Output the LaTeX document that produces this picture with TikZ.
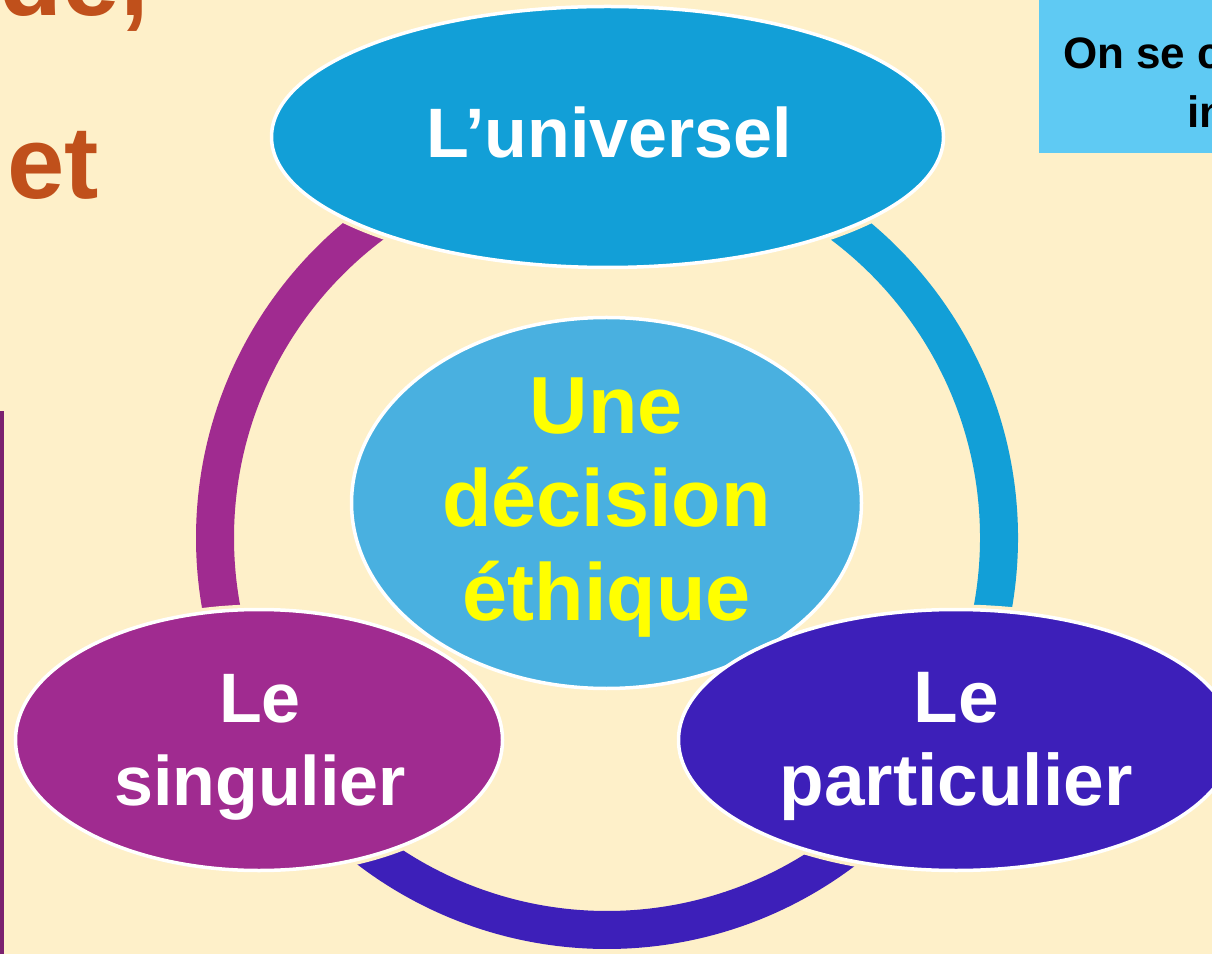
\documentclass[tikz,border=0pt]{standalone}
\usepackage{fontspec}
\setmainfont{Liberation Sans}
\usetikzlibrary{shapes.geometric}
\definecolor{bgc}{HTML}{FEF0C9}
\definecolor{univc}{HTML}{129FD7}
\definecolor{centc}{HTML}{49B0E0}
\definecolor{purpc}{HTML}{A02B90}
\definecolor{indc}{HTML}{3D1FB9}
\definecolor{orc}{HTML}{C0501B}
\definecolor{boxc}{HTML}{5FCAF3}
\definecolor{barc}{HTML}{7B2270}
\definecolor{yelc}{HTML}{FFFF00}
\tikzset{
  ringarc/.style={line width=38pt, line cap=butt},
  halo/.style={ellipse, draw=bgc, line width=10pt, inner sep=0pt},
  ell/.style={ellipse, draw=white, line width=3.5pt, inner sep=0pt},
  wlbl/.style={text=white, inner sep=0pt, font=\fontsize{70}{80}\selectfont\bfseries},
  wlblb/.style={text=white, inner sep=0pt, font=\fontsize{73}{80}\selectfont\bfseries},
  ylbl/.style={text=yelc, inner sep=0pt, font=\fontsize{81}{90}\selectfont\bfseries},
  otxt/.style={text=orc, inner sep=0pt, font=\fontsize{103}{110}\selectfont\bfseries},
  btxt/.style={text=black, inner sep=0pt, font=\fontsize{44}{52}\selectfont\bfseries}
}
\begin{document}
\begin{tikzpicture}[x=1pt,y=1pt]
\useasboundingbox (0,0) rectangle (1212,954);
\clip (0,0) rectangle (1212,954);
\fill[bgc] (0,0) rectangle (1212,954);

% side elements
\fill[barc] (0,0) rectangle (4,543);
\fill[boxc] (1039,801) rectangle (1220,960);
\node[btxt, anchor=base west] (boxa) at (1063,885) {On se c};
\node[btxt, anchor=base west] (boxb) at (1187,826) {in};
\node[otxt, anchor=base east] (ta) at (149,938) {ude,};
\node[otxt, anchor=base west] (tb) at (7,755) {et};

% ring
\coordinate (ring) at (607,416);
\draw[ringarc, purpc] ([shift={(90:392pt)}]ring) arc[start angle=90, end angle=211.5, radius=392pt];
\draw[ringarc, indc] ([shift={(211.5:392pt)}]ring) arc[start angle=211.5, end angle=308, radius=392pt];
\draw[ringarc, univc] ([shift={(308:392pt)}]ring) arc[start angle=308, end angle=450, radius=392pt];

% halos
\node[halo, minimum width=672pt, minimum height=261pt] (huniv) at (607.5,817) {};
\node[halo, minimum width=487pt, minimum height=261pt] (hsing) at (259,214) {};
\node[halo, minimum width=555pt, minimum height=261pt] (hpart) at (956,214) {};

% ellipses
\node[ell, fill=univc, minimum width=672pt, minimum height=261pt] (univ) at (607.5,817) {};
\node[ell, fill=centc, minimum width=510pt, minimum height=371pt] (cent) at (606.5,451) {};
\node[ell, fill=purpc, minimum width=487pt, minimum height=261pt] (sing) at (259,214) {};
\node[ell, fill=indc, minimum width=555pt, minimum height=261pt] (part) at (956,214) {};

% labels
\node[wlbl, anchor=base] (luniv) at (609,796) {L’universel};
\node[ylbl, anchor=base] (lc1) at (606.5,520) {Une};
\node[ylbl, anchor=base] (lc2) at (606.5,427) {décision};
\node[ylbl, anchor=base] (lc3) at (606.5,334) {éthique};
\node[wlbl, anchor=base] (ls1) at (260,232) {Le};
\node[wlbl, anchor=base] (ls2) at (260,149) {singulier};
\node[wlblb, anchor=base] (lp1) at (956,232) {Le};
\node[wlblb, anchor=base] (lp2) at (956,149) {particulier};
\end{tikzpicture}
\end{document}
